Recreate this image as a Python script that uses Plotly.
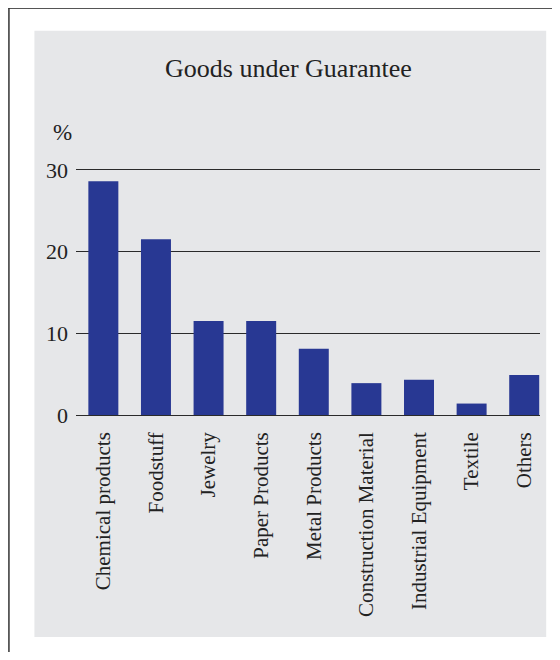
import plotly.graph_objects as go

categories = ["Chemical products", "Foodstuff", "Jewelry", "Paper Products",
              "Metal Products", "Construction Material", "Industrial Equipment",
              "Textile", "Others"]
values = [28.6, 21.5, 11.5, 11.5, 8.1, 3.9, 4.3, 1.4, 4.9]
y_ticks = [0, 10, 20, 30]

OFF = 8  # page body margin
W, H = 560 - 2 * OFF, 660 - 2 * OFF
Y_MAX = 30.6
L, R, B = 75.6 - OFF, 539.8 - OFF, 415 - OFF
T = B - Y_MAX * (245 / 30)
pw, ph = R - L, B - T

def px(x):
    return (x - OFF - L) / pw

def py(y):
    return (B - (y - OFF)) / ph

fig = go.Figure(go.Bar(
    x=list(range(len(categories))), y=values,
    marker=dict(color="#283893", line=dict(width=0)),
    width=0.57,
))

fig.update_layout(
    width=W, height=H,
    margin=dict(l=L, r=W - R, t=T, b=H - B, pad=0),
    paper_bgcolor="white",
    plot_bgcolor="#e6e7e9",
    showlegend=False,
    font=dict(family="Liberation Serif", color="#222222"),
)
fig.update_xaxes(
    range=[-0.52, 8.3],
    tickmode="array", tickvals=list(range(len(categories))), ticktext=categories,
    tickangle=-90, tickfont=dict(size=21, family="Liberation Serif", color="#222222"),
    showgrid=False, zeroline=False, showline=False, ticks="",
    ticklabelstandoff=12,
)
fig.update_yaxes(
    range=[0, Y_MAX], tickmode="array", tickvals=y_ticks,
    tickfont=dict(size=22, family="Liberation Serif", color="#222222"),
    showgrid=True, gridcolor="#2a2a2a", gridwidth=1.4,
    zeroline=True, zerolinecolor="#2a2a2a", zerolinewidth=1.4,
    showline=False, ticks="", ticklabelstandoff=7,
)

shapes = [
    # grey panel
    dict(type="rect", xref="paper", yref="paper", layer="below",
         x0=px(34), x1=px(546), y0=py(637), y1=py(31),
         fillcolor="#e6e7e9", line=dict(width=0)),
    # outer frame lines
    dict(type="line", xref="paper", yref="paper",
         x0=px(8), x1=px(570), y0=py(8.5), y1=py(8.5),
         line=dict(color="#555555", width=1.5)),
    dict(type="line", xref="paper", yref="paper",
         x0=px(8.5), x1=px(8.5), y0=py(8), y1=py(670),
         line=dict(color="#333333", width=1.5)),
]
fig.update_layout(shapes=shapes)

fig.add_annotation(
    text="Goods under Guarantee", xref="paper", yref="paper",
    x=px(288), y=py(69), xanchor="center", yanchor="middle", showarrow=False,
    font=dict(size=26, family="Liberation Serif", color="#222222"),
)
fig.add_annotation(
    text="%", xref="paper", yref="paper",
    x=px(62), y=py(133), xanchor="center", yanchor="middle", showarrow=False,
    font=dict(size=23, family="Liberation Serif", color="#222222"),
)

fig.write_html("out.html")
